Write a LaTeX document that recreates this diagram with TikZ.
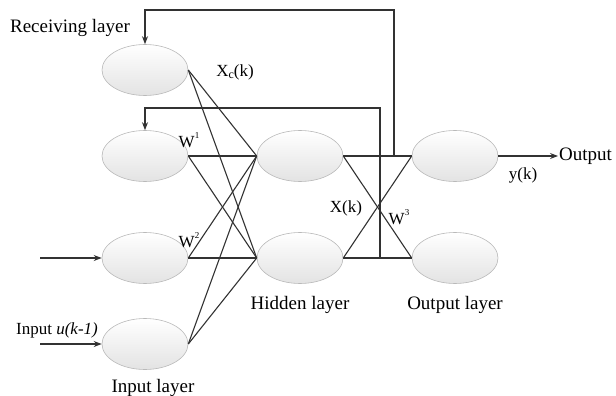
\documentclass[tikz,border=0pt]{standalone}
\usepackage{fontspec}
\setmainfont{Liberation Serif}
\usetikzlibrary{shapes.geometric, arrows.meta}

\definecolor{linegray}{RGB}{50,50,50}
\definecolor{rimgray}{RGB}{185,185,185}

\begin{document}
\begin{tikzpicture}[x=1pt, y=-1pt,
    neuron/.style={ellipse, draw=rimgray, line width=0.6pt, top color=white, bottom color=black!11,
        minimum width=86pt, minimum height=51pt, inner sep=0pt},
    wire/.style={draw=linegray, line width=1.1pt},
    lbl/.style={font=\fontsize{17}{19}\selectfont, inner sep=1pt},
    title/.style={font=\fontsize{19}{21}\selectfont, inner sep=1pt},
    >={Stealth[length=8pt, width=6pt]}]
    \useasboundingbox (0,0) rectangle (616,396);

    % Neurons
    \node[neuron] (rcv) at (145,70) {};
    \node[neuron] (in1) at (145,156) {};
    \node[neuron] (in2) at (145,258) {};
    \node[neuron] (in3) at (145,344) {};
    \node[neuron] (hid1) at (300,156) {};
    \node[neuron] (hid2) at (300,258) {};
    \node[neuron] (out1) at (455,156) {};
    \node[neuron] (out2) at (455,258) {};

    % Weights into hidden layer
    \foreach \src in {rcv,in1,in2,in3}
        \foreach \dst in {hid1,hid2}
            \draw[wire] (\src.east) -- (\dst.west);

    % Weights into output layer
    \foreach \src in {hid1,hid2}
        \foreach \dst in {out1,out2}
            \draw[wire] (\src.east) -- (\dst.west);

    % Feedback to receiving layer
    \coordinate (tap1) at (394,156);
    \coordinate (tap2) at (380,258);
    \coordinate (top1) at (145,10);
    \coordinate (top2) at (145,108);
    \draw[wire, ->] (tap1) |- (top1) -- (rcv.north);
    \draw[wire, ->] (tap2) |- (top2) -- (in1.north);

    % Inputs and output
    \coordinate (src2) at (40,258);
    \coordinate (src3) at (40,344);
    \coordinate (sink) at (558,156);
    \draw[wire, ->] (src2) -- (in2.west);
    \draw[wire, ->] (src3) -- (in3.west);
    \draw[wire, ->] (out1.east) -- (sink);
    \node[title, anchor=west] (outtxt) at (sink) {Output};

    % Labels
    \node[title] (rcvtxt) at (70,28) {Receiving layer};
    \node[lbl] (xc) at (235,72) {X\raisebox{-0.3ex}{\fontsize{12}{12}\selectfont c}(k)};
    \node[lbl] (w1) at (189,140) {W\raisebox{1.1ex}{\fontsize{9}{9}\selectfont 1}};
    \node[lbl] (w2) at (189,240) {W\raisebox{1.1ex}{\fontsize{9}{9}\selectfont 2}};
    \node[lbl] (xk) at (346,208) {X(k)};
    \node[lbl] (w3) at (399,217) {W\raisebox{1.1ex}{\fontsize{9}{9}\selectfont 3}};
    \node[lbl] (yk) at (523,175) {y(k)};
    \node[lbl] (intxt) at (57,330) {Input \textit{u(k-1)}};
    \node[title] (hidtxt) at (300,305) {Hidden layer};
    \node[title] (outlay) at (455,305) {Output layer};
    \node[title] (inlay) at (153,388) {Input layer};
\end{tikzpicture}
\end{document}
